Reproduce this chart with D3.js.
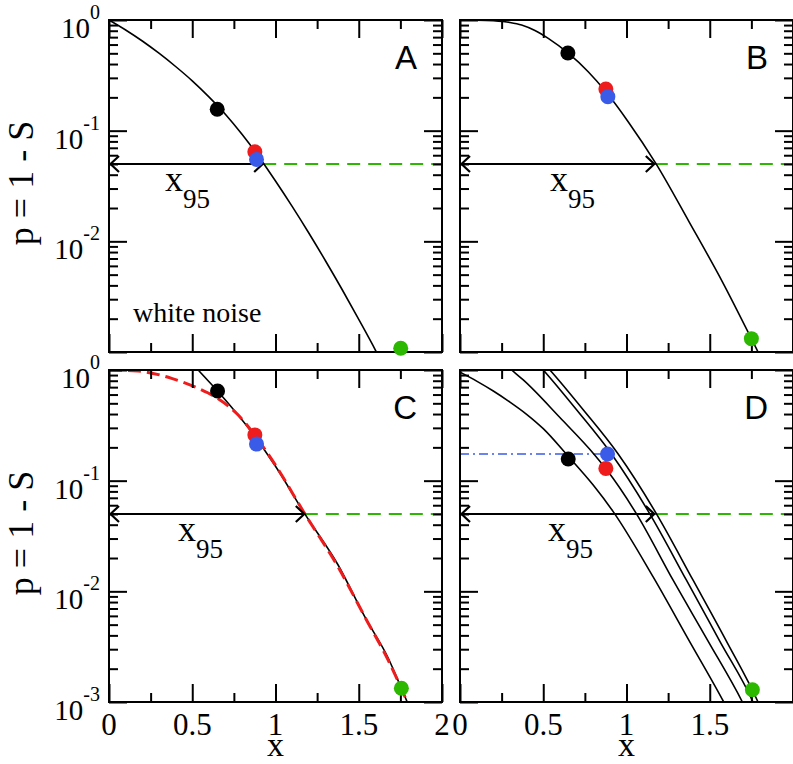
<!DOCTYPE html>
<html><head><meta charset="utf-8">
<script src="https://cdn.jsdelivr.net/npm/d3@7"></script>
<style>body{margin:0;background:#fff} .serif{font-family:"Liberation Serif","Times New Roman",serif} .sans{font-family:"Liberation Sans",Arial,sans-serif}</style>
</head><body>
<svg id="c" width="793" height="764"></svg>
<script>
// ---------------- data ----------------
const panelNames = ["A", "B", "C", "D"];
const xTickLabels = ["0", "0.5", "1", "1.5", "2"];
const xMajorTicks = [0, 0.5, 1, 1.5, 2];
const xMinorTicks = [0.25, 0.75, 1.25, 1.75];
const yMajorTicks = [1, 0.1, 0.01, 0.001];
const yTickExp = ["0", "-1", "-2", "-3"];

// Panel A: white noise
const curveA_x = [0, 0.1, 0.2, 0.3, 0.4, 0.5, 0.6, 0.7, 0.8, 0.9, 1.0, 1.1, 1.2, 1.3, 1.4, 1.5, 1.6, 1.65];
const curveA_p = [1, 0.813, 0.646, 0.501, 0.380, 0.282, 0.202, 0.140, 0.0923, 0.0582, 0.0351, 0.0207, 0.0119, 0.00668, 0.00367, 0.00197, 0.00104, 0.00074];

// Panel B
const curveB_x = [0, 0.1, 0.2, 0.3, 0.37, 0.45, 0.53, 0.65, 0.77, 0.88, 1.01, 1.176, 1.376, 1.576, 1.75, 1.79, 1.82];
const curveB_p = [1, 0.998, 0.986, 0.951, 0.902, 0.804, 0.682, 0.501, 0.341, 0.221, 0.1205, 0.0506, 0.0150, 0.00431, 0.00132, 0.00100, 0.00079];

// Panel C: black solid and red dashed
const curveC_x = [0.45, 0.536, 0.652, 0.876, 1.0, 1.176, 1.376, 1.54, 1.676, 1.756, 1.80];
const curveC_p = [1.41, 1.0, 0.646, 0.251, 0.135, 0.0501, 0.0173, 0.00575, 0.00251, 0.00133, 0.00093];
const curveCred_x = [0, 0.176, 0.376, 0.536, 0.652, 0.776, 0.876, 1.0, 1.176, 1.376, 1.54, 1.676, 1.756, 1.80];
const curveCred_p = [1, 0.977, 0.841, 0.682, 0.555, 0.392, 0.257, 0.138, 0.0501, 0.0166, 0.00575, 0.00240, 0.00132, 0.00093];

// Panel D: four curves
const curveD1_x = [0, 0.1, 0.2, 0.3, 0.4, 0.5, 0.65, 0.8, 0.92, 1.16, 1.37, 1.584, 1.62];
const curveD1_p = [0.955, 0.794, 0.646, 0.513, 0.398, 0.295, 0.166, 0.0912, 0.0525, 0.0135, 0.00372, 0.00100, 0.00079];
const curveD2_x = [0.25, 0.31, 0.38, 0.6, 0.81, 0.88, 1.06, 1.28, 1.49, 1.696, 1.73];
const curveD2_p = [1.20, 1.0, 0.813, 0.372, 0.170, 0.126, 0.0501, 0.0126, 0.00355, 0.00100, 0.00079];
const curveD3_x = [0.44, 0.50, 0.7, 0.91, 1.14, 1.36, 1.56, 1.76, 1.79];
const curveD3_p = [1.259, 1.0, 0.437, 0.174, 0.0501, 0.0126, 0.00355, 0.00100, 0.00079];
const curveD4_x = [0.48, 0.54, 0.74, 0.95, 1.18, 1.40, 1.60, 1.79, 1.82];
const curveD4_p = [1.259, 1.0, 0.437, 0.174, 0.0501, 0.0126, 0.00355, 0.00100, 0.00079];

// dots per panel (A, B, C, D)
const blackDot_x = [0.65, 0.648, 0.652, 0.65];
const blackDot_p = [0.156, 0.504, 0.646, 0.157];
const redDot_x = [0.876, 0.876, 0.876, 0.876];
const redDot_p = [0.0644, 0.238, 0.259, 0.129];
const blueDot_x = [0.886, 0.888, 0.886, 0.886];
const blueDot_p = [0.055, 0.203, 0.214, 0.174];
const greenDot_x = [1.752, 1.75, 1.756, 1.756];
const greenDot_p = [0.00108, 0.00132, 0.00133, 0.00129];

// x95 threshold
const x95 = [0.926, 1.17, 1.176, 1.17];
const pThreshold = 0.05;

// ---------------- layout ----------------
const W = 333, H = 332;
const layout = [
  {left: 109, top: 20, xLabels: false, yLabels: [true, true, true, false], lab95: 165},
  {left: 460, top: 20, xLabels: false, yLabels: null, lab95: 550},
  {left: 109, top: 370, xLabels: [true, true, true, true, true], yLabels: [true, true, true, true], lab95: 178},
  {left: 460, top: 370, xLabels: [true, true, true, true, false], yLabels: null, lab95: 548}
];
const curves = [
  [{x: curveA_x, p: curveA_p}],
  [{x: curveB_x, p: curveB_p}],
  [{x: curveC_x, p: curveC_p}, {x: curveCred_x, p: curveCred_p, red: true}],
  [{x: curveD1_x, p: curveD1_p}, {x: curveD2_x, p: curveD2_p}, {x: curveD3_x, p: curveD3_p}, {x: curveD4_x, p: curveD4_p}]
];

const RED = "#ee1c1c", BLUE = "#3a5be8", GREEN = "#2cb800";

const svg = d3.select("#c");
const defs = svg.append("defs");

panelNames.forEach((name, i) => {
  const L = layout[i];
  const x = d3.scaleLinear().domain([0, 2]).range([L.left, L.left + W]);
  const y = d3.scaleLog().domain([1e-3, 1]).range([L.top + H, L.top]);
  const g = svg.append("g");

  defs.append("clipPath").attr("id", "clip" + i)
    .append("rect").attr("x", L.left).attr("y", L.top).attr("width", W).attr("height", H);
  const plot = g.append("g").attr("clip-path", `url(#clip${i})`);

  // threshold guide lines
  const yT = y(pThreshold);
  plot.append("line").attr("x1", x(x95[i])).attr("x2", x(2)).attr("y1", yT).attr("y2", yT)
    .attr("stroke", GREEN).attr("stroke-width", 2).attr("stroke-dasharray", "13,8");

  if (name === "D") {
    plot.append("line").attr("x1", x(0)).attr("x2", x(blueDot_x[i])).attr("y1", y(blueDot_p[i])).attr("y2", y(blueDot_p[i]))
      .attr("stroke", BLUE).attr("stroke-width", 1.5).attr("stroke-dasharray", "9,4,2,4");
  }

  // curves
  const line = d3.line().x(d => x(d[0])).y(d => y(d[1])).curve(d3.curveMonotoneX);
  curves[i].forEach(c => {
    const pts = c.x.map((v, k) => [v, c.p[k]]);
    plot.append("path").attr("d", line(pts)).attr("fill", "none")
      .attr("stroke", c.red ? RED : "#000")
      .attr("stroke-width", c.red ? 3 : 1.6)
      .attr("stroke-dasharray", c.red ? "13,6" : null);
  });

  // arrow
  const ax0 = x(0), ax1 = x(x95[i]);
  g.append("line").attr("x1", ax0 + 1).attr("x2", ax1).attr("y1", yT).attr("y2", yT)
    .attr("stroke", "#000").attr("stroke-width", 2.2);
  g.append("path").attr("d", `M${ax0 + 10},${yT - 8}L${ax0 + 1.5},${yT}L${ax0 + 10},${yT + 8}`)
    .attr("fill", "none").attr("stroke", "#000").attr("stroke-width", 2.2);
  g.append("path").attr("d", `M${ax1 - 9},${yT - 8}L${ax1 - 0.5},${yT}L${ax1 - 9},${yT + 8}`)
    .attr("fill", "none").attr("stroke", "#000").attr("stroke-width", 2.2);

  // x95 label
  const t95 = g.append("text").attr("class", "serif").attr("x", L.lab95).attr("y", yT + 27)
    .attr("font-size", 36).attr("fill", "#000");
  t95.append("tspan").text("x");
  t95.append("tspan").attr("dy", 17).attr("font-size", 27).text("95");

  // dots
  const dot = (cx, cp, col) => g.append("circle").attr("cx", x(cx)).attr("cy", y(cp)).attr("r", 7.5).attr("fill", col);
  dot(blackDot_x[i], blackDot_p[i], "#000");
  dot(redDot_x[i], redDot_p[i], RED);
  dot(blueDot_x[i], blueDot_p[i], BLUE);

  // axes (inward ticks)
  const styleAxis = sel => {
    sel.select(".domain").remove();
    sel.selectAll("line").attr("stroke", "#000").attr("stroke-width", 2);
    sel.selectAll("text").remove();
  };
  const yMinor = y.ticks().filter(v => !yMajorTicks.some(m => Math.abs(m - v) < 1e-9));
  const bx = `translate(0,${L.top + H})`, tx = `translate(0,${L.top})`;
  const lx = `translate(${L.left},0)`, rx = `translate(${L.left + W},0)`;
  g.append("g").attr("transform", bx).call(d3.axisBottom(x).tickValues(xMajorTicks).tickSize(-18)).call(styleAxis);
  g.append("g").attr("transform", bx).call(d3.axisBottom(x).tickValues(xMinorTicks).tickSize(-9)).call(styleAxis);
  g.append("g").attr("transform", tx).call(d3.axisTop(x).tickValues(xMajorTicks).tickSize(-18)).call(styleAxis);
  g.append("g").attr("transform", tx).call(d3.axisTop(x).tickValues(xMinorTicks).tickSize(-9)).call(styleAxis);
  g.append("g").attr("transform", lx).call(d3.axisLeft(y).tickValues(yMajorTicks).tickSize(-18)).call(styleAxis);
  g.append("g").attr("transform", lx).call(d3.axisLeft(y).tickValues(yMinor).tickSize(-9)).call(styleAxis);
  g.append("g").attr("transform", rx).call(d3.axisRight(y).tickValues(yMajorTicks).tickSize(-18)).call(styleAxis);
  g.append("g").attr("transform", rx).call(d3.axisRight(y).tickValues(yMinor).tickSize(-9)).call(styleAxis);

  g.append("rect").attr("x", L.left).attr("y", L.top).attr("width", W).attr("height", H)
    .attr("fill", "none").attr("stroke", "#000").attr("stroke-width", 2);

  // green dot on top of frame
  dot(greenDot_x[i], greenDot_p[i], GREEN);

  // panel letter
  g.append("text").attr("class", "sans").attr("x", L.left + W - 25).attr("y", L.top + 49).attr("text-anchor", "end")
    .attr("font-size", 33).text(name);

  // x tick labels
  if (L.xLabels) {
    xMajorTicks.forEach((v, k) => {
      if (!L.xLabels[k]) return;
      g.append("text").attr("class", "serif").attr("x", x(v)).attr("y", L.top + H + 33).attr("text-anchor", "middle")
        .attr("font-size", 31).text(xTickLabels[k]);
    });
    g.append("text").attr("class", "serif").attr("x", x(1)).attr("y", 756).attr("text-anchor", "middle")
      .attr("font-size", 34).text("x");
  }
  // y tick labels
  if (L.yLabels) {
    yMajorTicks.forEach((v, k) => {
      if (!L.yLabels[k]) return;
      const t = g.append("text").attr("class", "serif").attr("x", L.left - 9).attr("y", y(v) + 18).attr("text-anchor", "end")
        .attr("font-size", 29);
      t.append("tspan").text("10");
      t.append("tspan").attr("dy", -19).attr("font-size", 20).text(yTickExp[k]);
    });
    g.append("text").attr("class", "serif").attr("transform", `translate(33,${L.top + H / 2 - 3}) rotate(-90)`)
      .attr("text-anchor", "middle").attr("font-size", 36).text("p = 1 - S");
  }
  if (name === "A") {
    g.append("text").attr("class", "serif").attr("x", 133).attr("y", 322).attr("font-size", 28).text("white noise");
  }
});
</script>
</body></html>
